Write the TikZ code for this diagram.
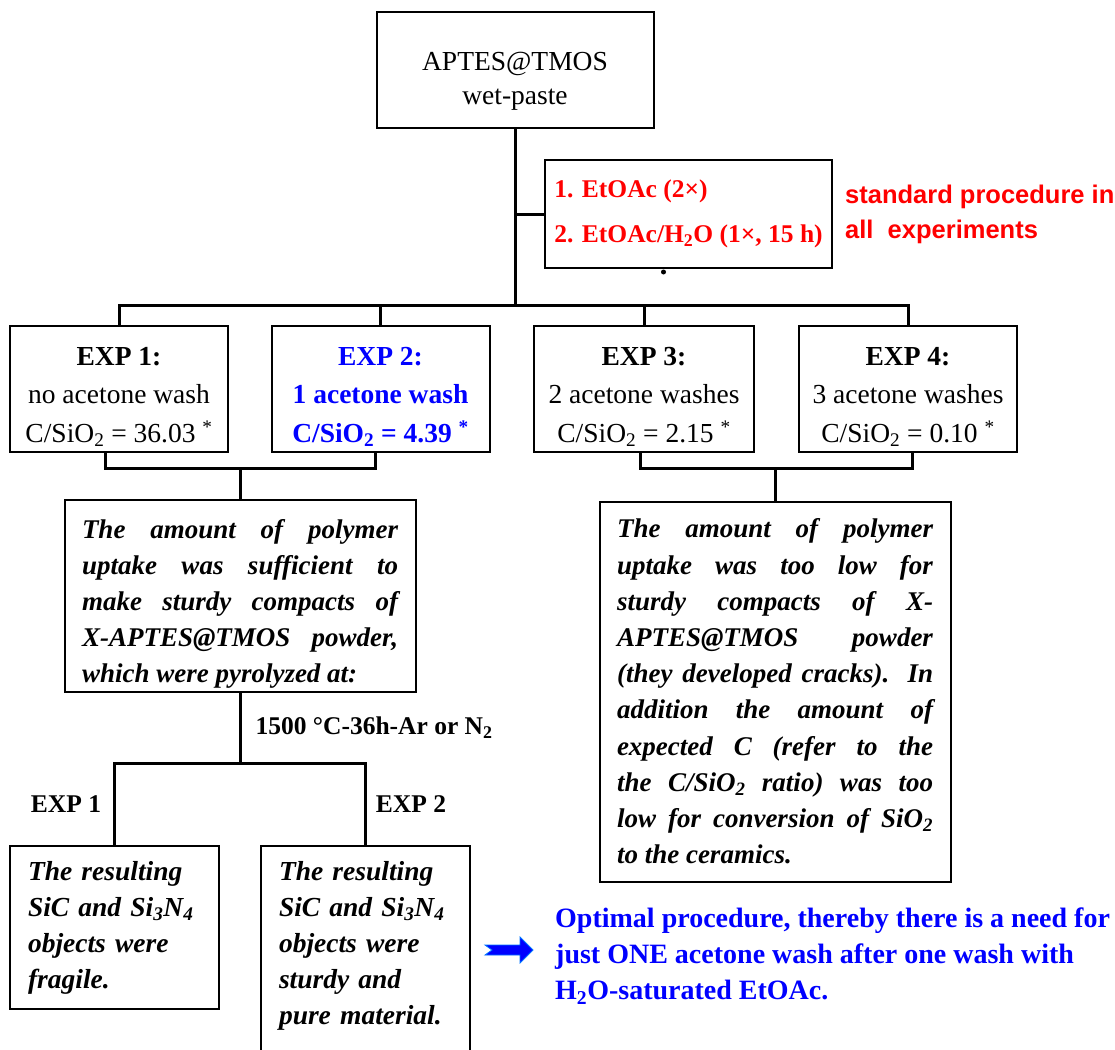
\documentclass[tikz,border=0pt]{standalone}
\usepackage{fontspec}
\setmainfont{Liberation Serif}
\setsansfont{Liberation Sans}
\begin{document}
\begin{tikzpicture}[x=1pt, y=-1pt,
    every node/.style={font=\fontsize{27.5}{36}\selectfont},
    box/.style={draw, line width=2pt, align=center},
    expbox/.style={box, minimum width=218pt, minimum height=126pt, font=\fontsize{27.5}{38.5}\selectfont},
    para/.style={box, align=justify, text width=316pt, inner xsep=17.5pt, font=\fontsize{27}{36.2}\selectfont\bfseries\itshape},
    endbox/.style={box, anchor=north, align=left, text width=173pt, inner xsep=18pt, inner ysep=15pt, font=\fontsize{27.5}{36}\selectfont\bfseries\itshape},
    conn/.style={line width=3pt},
    lbl/.style={font=\fontsize{25.5}{30}\selectfont\bfseries}]
    \useasboundingbox (0,0) rectangle (1115,1049);
    \node[box, minimum width=277pt, minimum height=116pt, font=\fontsize{27.5}{34}\selectfont] (paste) at (515,70) {\rule{0pt}{40pt}APTES@TMOS\\wet-paste};
    \node[box, text=red, align=left, minimum width=287pt, minimum height=108pt, font=\fontsize{25.5}{45}\selectfont\bfseries] (wash) at (688.5,214) {1. EtOAc (2×)\\2. EtOAc/H\textsubscript{2}O (1×, 15 h)};
    \node[anchor=west, inner sep=0pt, align=left, text=red, font=\fontsize{25.5}{35}\selectfont\sffamily\bfseries] (std) at (845,214) {standard procedure in\\all~~experiments};
    \fill ([xshift=-25pt,yshift=-3pt]wash.south) circle (2.5pt);
    \node[expbox] (exp1) at (119,389) {\rule{0pt}{34pt}\textbf{EXP 1:}\\no acetone wash\\C/SiO\textsubscript{2} = 36.03 \textsuperscript{*}};
    \node[expbox, text=blue, font=\fontsize{27.5}{38.5}\selectfont\bfseries] (exp2) at (380.5,389) {\rule{0pt}{34pt}EXP 2:\\1 acetone wash\\C/SiO\textsubscript{2} = 4.39 \textsuperscript{*}};
    \node[expbox, minimum width=220pt] (exp3) at (644,389) {\rule{0pt}{34pt}\textbf{EXP 3:}\\2 acetone washes\\C/SiO\textsubscript{2} = 2.15 \textsuperscript{*}};
    \node[expbox] (exp4) at (908,389) {\rule{0pt}{34pt}\textbf{EXP 4:}\\3 acetone washes\\C/SiO\textsubscript{2} = 0.10 \textsuperscript{*}};
    \coordinate (fork) at (515,305);
    \draw[conn] (paste.south) -- (fork);
    \draw[conn] (wash.west) -- (wash.west -| fork);
    \draw[conn] (exp1.north) |- (fork) -| (exp4.north);
    \draw[conn] (exp2.north) -- (exp2.north |- fork);
    \draw[conn] (exp3.north) -- (exp3.north |- fork);
    \node[para, minimum height=190pt] (enough) at (240,596) {\rule{0pt}{35pt}The amount of polymer\linebreak uptake was sufficient to\linebreak make sturdy compacts of\linebreak X-APTES@TMOS powder,\linebreak which were pyrolyzed at:};
    \node[para, minimum height=380pt] (low) at (775,691.5) {The amount of polymer\linebreak uptake was too low for\linebreak sturdy compacts of X-\linebreak APTES@TMOS powder\linebreak (they developed cracks). In\linebreak addition the amount of\linebreak expected C (refer to the\linebreak the C/SiO\textsubscript{2} ratio) was too\linebreak low for conversion of SiO\textsubscript{2}\linebreak to the ceramics.};
    \coordinate (join1) at (240,468);
    \draw[conn] ([xshift=-14pt]exp1.south) |- (join1) -| ([xshift=-5pt]exp2.south);
    \draw[conn] (join1) -- (enough.north);
    \coordinate (join2) at (775,468);
    \draw[conn] ([xshift=-4pt]exp3.south) |- (join2) -| ([xshift=4pt]exp4.south);
    \draw[conn] (join2) -- (low.north);
    \node[lbl, anchor=west] (heat) at (252,728) {1500 °C-36h-Ar or N\textsubscript{2}};
    \node[endbox] (frag) at (114.5,845) {The resulting\\SiC and Si\textsubscript{3}N\textsubscript{4}\\objects were\\fragile.};
    \node[endbox] (pure) at (365.5,845) {The resulting\\SiC and Si\textsubscript{3}N\textsubscript{4}\\objects were\\sturdy and\\pure material.\rule[-25pt]{0pt}{25pt}};
    \coordinate (split) at (240,763);
    \draw[conn] (enough.south) -- (split);
    \draw[conn] (frag.north) |- (split) -| (pure.north);
    \node[lbl] (lab1) at (66,804) {EXP 1};
    \node[lbl] (lab2) at (411,804) {EXP 2};
    \coordinate (arrow) at (485,950);
    \fill[blue, draw=blue!55!cyan, line width=0.8pt] (arrow) ++(0,-5) -- ++(35,0) -- ++(0,-8) -- ++(13,13) -- ++(-13,13) -- ++(0,-8) -- ++(-35,0) -- ++(7,-5) -- cycle;
    \node[anchor=west, align=left, inner sep=0pt, text=blue, font=\fontsize{28}{36}\selectfont\bfseries] (optimal) at (555,956) {Optimal procedure, thereby there is a need for\\just ONE acetone wash after one wash with\\H\textsubscript{2}O-saturated EtOAc.};
\end{tikzpicture}
\end{document}
